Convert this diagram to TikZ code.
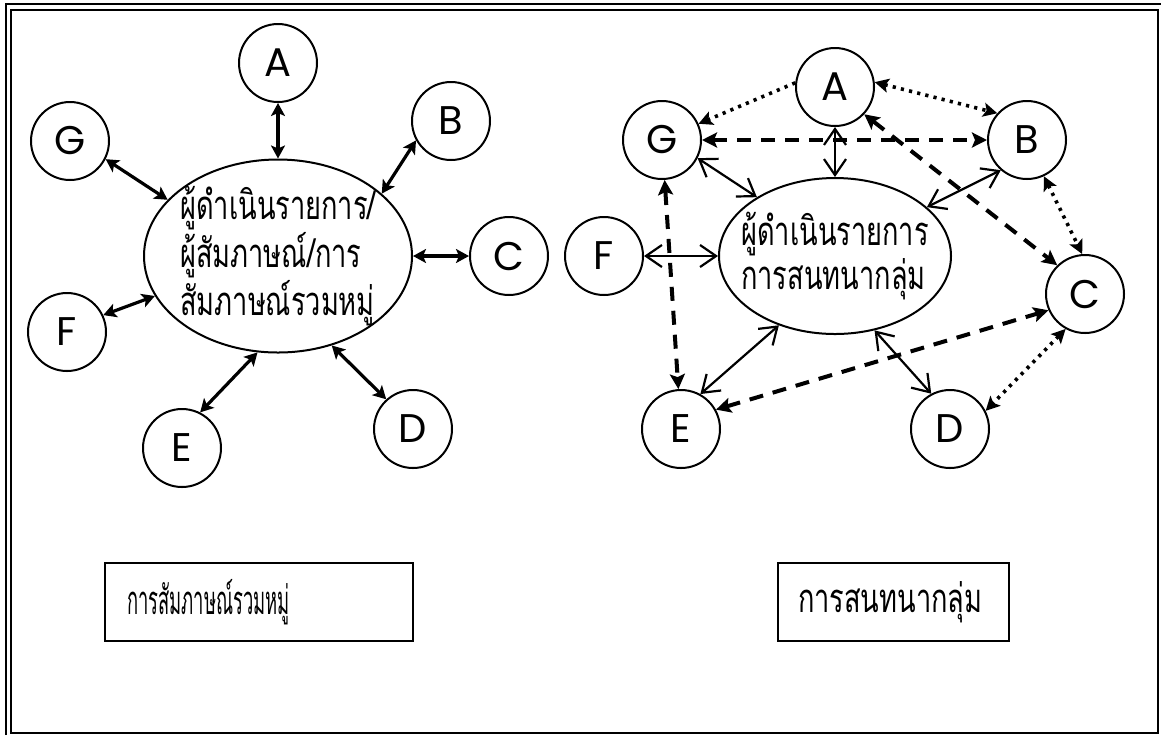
\documentclass[tikz,border=0pt]{standalone}
\usepackage{fontspec}
\setmainfont{Poppins}
\newfontfamily\thaifont[Script=Thai,FakeStretch=0.68]{Loma}
\newfontfamily\thainarrow[Script=Thai,FakeStretch=0.46]{Loma}
\usetikzlibrary{shapes.geometric,arrows.meta}
\tikzset{
	person/.style={circle, draw, line width=1pt, minimum size=39pt, inner sep=0pt, font=\fontsize{20}{24}\selectfont},
	host/.style={ellipse, draw, line width=1pt, inner sep=-14pt, align=left, font=\thaifont\fontsize{20}{20}\selectfont},
	capbox/.style={draw, line width=1pt, minimum height=39pt, align=left, font=\thaifont\fontsize{20}{20}\selectfont},
	talk/.style={{Stealth[length=6.5pt,width=7pt,inset=1.5pt]}-{Stealth[length=6.5pt,width=7pt,inset=1.5pt]}, line width=1.6pt},
	chat/.style={{Straight Barb[length=8pt,width=11pt]}-{Straight Barb[length=8pt,width=11pt]}, line width=1.1pt},
	cross/.style={{Stealth[length=7.5pt,width=7.5pt,inset=1.5pt]}-{Stealth[length=7.5pt,width=7.5pt,inset=1.5pt]}, line width=2pt, dash pattern=on 7pt off 5pt},
	side/.style={{Stealth[length=7pt,width=7pt,inset=1.5pt]}-{Stealth[length=7pt,width=7pt,inset=1.5pt]}, line width=1.8pt, dash pattern=on 1.6pt off 2.6pt}
}
\begin{document}
\begin{tikzpicture}[x=0.5pt,y=-0.5pt]
	\useasboundingbox (0,0) rectangle (1161,735);
	\draw[line width=1pt] (11,10) rectangle (1158,733);
	\draw[line width=1.2pt] (6,735) -- (6,4) -- (1161,4);

	% group interview
	\node (lHost) at (278, 256)	[host, minimum width=134pt, minimum height=96.5pt]	{ผู้ดำเนินรายการ/\\ผู้สัมภาษณ์/การ\\สัมภาษณ์รวมหมู่};
	\node (lA) at (278,  63)	[person]	{A};
	\node (lB) at (451, 121)	[person]	{B};
	\node (lC) at (509, 256)	[person]	{C};
	\node (lD) at (413, 429)	[person]	{D};
	\node (lE) at (182, 448)	[person]	{E};
	\node (lF) at ( 67, 332)	[person]	{F};
	\node (lG) at ( 70, 141)	[person]	{G};
	\draw [talk] (lA) -- (lHost);
	\draw [talk] (lB.209) -- (lHost.31);
	\draw [talk] (lC) -- (lHost);
	\draw [talk] (lD.132) -- (lHost.301);
	\draw [talk] (lE.63) -- (lHost.258);
	\draw [talk] (lF.25) -- (lHost.198);
	\draw [talk] (lG.333) -- (lHost.153);

	% focus group
	\node (rHost) at (835, 256)	[host, minimum width=116pt, minimum height=78pt]	{ผู้ดำเนินรายการ\\การสนทนากลุ่ม};
	\node (rA) at ( 835,  87)	[person]	{A};
	\node (rB) at (1027, 140)	[person]	{B};
	\node (rC) at (1085, 294)	[person]	{C};
	\node (rD) at ( 950, 429)	[person]	{D};
	\node (rE) at ( 681, 429)	[person]	{E};
	\node (rF) at ( 604, 256)	[person]	{F};
	\node (rG) at ( 662, 140)	[person]	{G};
	\draw [chat] (rA) -- (rHost);
	\draw [chat] (rG.333) -- (rHost.143);
	\draw [chat] (rB.229) -- (rHost.28);
	\draw [chat] (rF) -- (rHost);
	\draw [chat] (rE.61) -- (rHost.231);
	\draw [chat] (rD.118) -- (rHost.298);
	\draw [cross] (rG) -- (rB);
	\draw [cross] (rA.317) -- (rC.134);
	\draw [cross] (rG) -- (rE);
	\draw [cross] (rE.29) -- (rC.204);
	\draw [side, -{Stealth[length=7pt,width=7pt,inset=1.5pt]}] (rA.174) -- (rG.24);
	\draw [side] (rA.7) -- (rB.138);
	\draw [side] (rB.295) -- (rC.94);
	\draw [side] (rC.241) -- (rD.27);

	\node (lCap) at (259, 602)	[capbox, text width=132pt, inner xsep=11pt, font=\thainarrow\fontsize{20}{20}\selectfont]	{การสัมภาษณ์รวมหมู่};
	\node (rCap) at (893.5, 602)	[capbox, text width=95.5pt, inner xsep=10pt]	{การสนทนากลุ่ม};
\end{tikzpicture}
\end{document}
